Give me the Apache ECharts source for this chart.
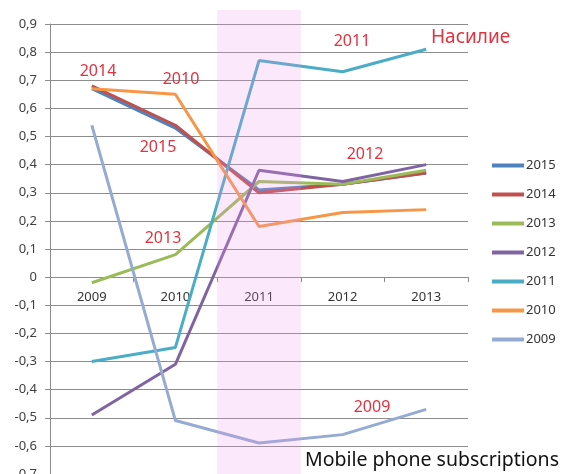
<!DOCTYPE html>
<html>
<head>
<meta charset="utf-8">
<script src="https://cdn.jsdelivr.net/npm/echarts@6/dist/echarts.min.js"></script>
<style>
  html, body { margin: 0; padding: 0; background: #fff; }
  #chart { width: 563px; height: 474px; }
</style>
</head>
<body>
<div id="chart"></div>
<script>
const years = ['2009', '2010', '2011', '2012', '2013']

// one line per survey year
const s2015 = [0.67, 0.53, 0.31, 0.33, 0.37]
const s2014 = [0.68, 0.54, 0.30, 0.33, 0.37]
const s2013 = [-0.02, 0.08, 0.34, 0.33, 0.38]
const s2012 = [-0.49, -0.31, 0.38, 0.34, 0.40]
const s2011 = [-0.30, -0.25, 0.77, 0.73, 0.81]
const s2010 = [0.67, 0.65, 0.18, 0.23, 0.24]
const s2009 = [0.54, -0.51, -0.59, -0.56, -0.47]

const yMin = -0.7
const yMax = 0.9
const bandTop = 0.95 // pink highlight reaches a bit above the plot
const bandYear = '2011'

const seriesDefs = [
  { name: '2015', data: s2015, color: '#4f81bd' },
  { name: '2014', data: s2014, color: '#c0504d' },
  { name: '2013', data: s2013, color: '#9bbb59' },
  { name: '2012', data: s2012, color: '#8064a2' },
  { name: '2011', data: s2011, color: '#4bacc6' },
  { name: '2010', data: s2010, color: '#f79646' },
  { name: '2009', data: s2009, color: '#95abd3' },
]

const fmt = v => {
  if (Math.abs(v) < 1e-9) return '0'
  return v.toFixed(1).replace('.', ',')
}

const font = 'Noto Sans'
const red = '#e2323f'
const W = 563, H = 474
const gridBox = { left: 50, right: 95, top: 24, bottom: 0, containLabel: false, outerBoundsMode: 'none' }
const gridHeight = H - gridBox.top - gridBox.bottom
// category axis sits at y = 0 (lifted from the bottom edge of the grid)
const zeroOffset = -((0 - yMin) / (yMax - yMin)) * gridHeight

const chart = echarts.init(document.getElementById('chart'))

const lines = seriesDefs.map(s => ({
  name: s.name,
  type: 'line',
  data: s.data,
  showSymbol: false,
  symbol: 'none',
  lineStyle: { width: 3, color: s.color },
  itemStyle: { color: s.color },
  z: 3,
}))

// highlight band lives in its own (overlapping) grid so it doesn't disturb the main axes
const band = {
  type: 'bar',
  xAxisIndex: 1,
  yAxisIndex: 1,
  data: years.map(y => (y === bandYear ? bandTop - yMin : null)),
  barWidth: '100%',
  clip: false,
  silent: true,
  itemStyle: { color: 'rgba(235, 150, 235, 0.22)' },
  z: 10,
}

const notes = [
  { text: '2014', x: 98, y: 71 },
  { text: '2010', x: 181, y: 79 },
  { text: '2015', x: 158, y: 147 },
  { text: '2013', x: 163, y: 238 },
  { text: '2011', x: 352, y: 41 },
  { text: '2012', x: 365, y: 154 },
  { text: '2009', x: 372, y: 407 },
]

chart.setOption({
  animation: false,
  grid: [gridBox, { ...gridBox }],
  legend: {
    orient: 'vertical',
    left: 492,
    top: 159,
    padding: 0,
    itemWidth: 32,
    itemHeight: 4,
    itemGap: 16,
    icon: 'rect',
    data: seriesDefs.map(s => s.name),
    textStyle: { fontFamily: font, fontSize: 13, color: '#333', padding: [0, 0, 0, -3] },
  },
  xAxis: [
    {
      type: 'category',
      data: years,
      boundaryGap: true,
      offset: zeroOffset,
      axisLine: { onZero: false, lineStyle: { color: '#8c8c8c', width: 1 } },
      axisTick: { show: true, length: 5, lineStyle: { color: '#8c8c8c' } },
      axisLabel: { fontFamily: font, fontSize: 13, color: '#333', margin: 14 },
      splitLine: { show: false },
    },
    { type: 'category', data: years, gridIndex: 1, show: false },
  ],
  yAxis: [
    {
      type: 'value',
      min: yMin,
      max: yMax,
      interval: 0.1,
      axisLine: { show: true, lineStyle: { color: '#8c8c8c' } },
      axisTick: { show: true, length: 5, lineStyle: { color: '#8c8c8c' } },
      axisLabel: { fontFamily: font, fontSize: 13, color: '#404040', margin: 13, formatter: fmt },
      splitLine: { lineStyle: { color: '#8c8c8c', width: 1 } },
    },
    { type: 'value', gridIndex: 1, min: 0, max: yMax - yMin, show: false },
  ],
  series: [...lines, band],
  graphic: [
    ...notes.map(n => ({
      type: 'text',
      x: n.x,
      y: n.y,
      z: 20,
      style: {
        text: n.text,
        fill: red,
        font: `16px "${font}"`,
        textAlign: 'center',
        textVerticalAlign: 'middle',
      },
    })),
    {
      type: 'text',
      x: 431,
      y: 38,
      z: 20,
      style: { text: 'Насилие', fill: red, font: `19px "${font}"`, textVerticalAlign: 'middle' },
    },
    {
      type: 'text',
      x: 305,
      y: 460,
      z: 20,
      style: { text: 'Mobile phone subscriptions', fill: '#111', font: `19.5px "${font}"`, textVerticalAlign: 'middle' },
    },
  ],
})
</script>
</body>
</html>
